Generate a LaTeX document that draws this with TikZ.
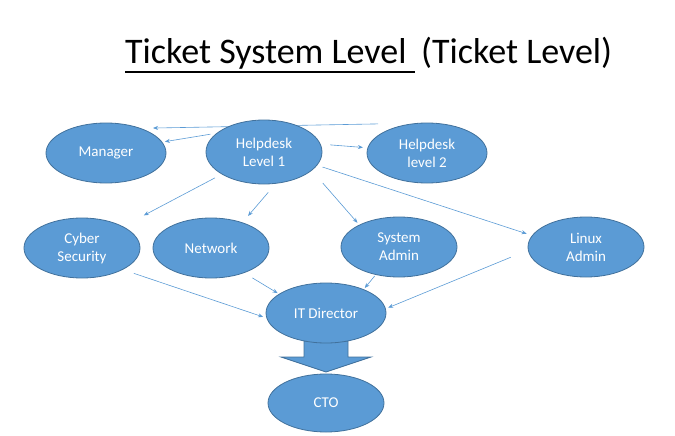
\documentclass[tikz,border=0pt]{standalone}
\usepackage{fontspec}
\setmainfont{Carlito}
\usetikzlibrary{arrows.meta}
\usetikzlibrary{calc}
\usetikzlibrary{shapes.geometric}
\definecolor{nodeBlue}{RGB}{91,155,213}
\definecolor{nodeEdge}{RGB}{65,113,156}
\definecolor{linkBlue}{RGB}{91,155,213}
\pgfdeclarelayer{background}
\pgfsetlayers{background,main}

\begin{document}
\begin{tikzpicture}[x=1pt,y=-1pt,
  level/.style={ellipse, fill=nodeBlue, draw=nodeEdge, line width=0.8pt, text=white,
    minimum width=116pt, minimum height=60pt, inner sep=0pt, outer sep=0pt,
    align=center, font=\fontsize{15}{18}\selectfont},
  link/.style={draw=linkBlue, line width=0.6pt, -{Stealth[length=5pt,width=4pt]}},
  heading/.style={anchor=base west, inner sep=0pt, font=\fontsize{36}{43}\selectfont},
]
\useasboundingbox (0,0) rectangle (675,436);

% title
\node [heading] (title) at (125,64) {Ticket System Level};
\node [heading] (subtitle) at (421,64) {(Ticket Level)};
\draw [line width=1.6pt] ($(title.base west)+(0,8)$) -- ($(subtitle.base west)+(-6,8)$);

% levels
\node [level, minimum width=120pt] (manager) at (106,153) {Manager};
\node [level, minimum height=64pt] (helpdeskA) at (264,152) {Helpdesk\\Level 1};
\node [level, minimum width=120pt] (helpdeskB) at (427,153) {Helpdesk\\level 2};
\node [level] (cyber) at (82,248) {Cyber\\Security};
\node [level] (network) at (211,248) {Network};
\node [level] (sysadmin) at (399,247) {System\\Admin};
\node [level] (linux) at (586,247) {Linux\\Admin};
\node [level, minimum width=120pt] (director) at (326,313) {IT Director};
\node [level, minimum height=58pt] (cto) at (326,403) {CTO};

\begin{pgfonlayer}{background}
\draw [link, shorten <=49pt, shorten >=13pt] (helpdeskB.north) -- (manager.36);
\draw [link, shorten <=7pt, shorten >=3pt] (helpdeskA.158) -- (manager.11);
\draw [link, shorten <=10pt, shorten >=5pt] (helpdeskA.8) -- (helpdeskB.175);
\draw [link, shorten <=8pt, shorten >=24pt] (helpdeskA) -- (cyber);
\draw [link, shorten <=12pt, shorten >=9pt] (helpdeskA.-69) -- (network.39);
\draw [link, shorten <=17pt, shorten >=3pt] (helpdeskA.-21) -- (sysadmin.151);
\draw [link, shorten <=6pt, shorten >=6pt] (helpdeskA.-14) -- (linux.168);
\draw [link, shorten <=12pt, shorten >=4pt] (cyber.-28) -- (director.185);
\draw [link, shorten <=10pt, shorten >=2pt] (network.-37) -- (director.158);
\draw [link, shorten <=2pt, shorten >=2pt] (sysadmin.230) -- (director.32);
\draw [link, shorten <=19pt, shorten >=3pt] (linux.183) -- (director.4);
% block arrow down to the CTO
\filldraw [fill=nodeBlue, draw=nodeEdge, line width=0.8pt]
  ($(director.south)+(-22,-2)$) -- ++(0,16) -- ++(-23,0) -- ($(cto.north)+(0,-2)$)
  -- ($(director.south)+(45,14)$) -- ++(-23,0) -- ++(0,-16) -- cycle;
\end{pgfonlayer}
\end{tikzpicture}
\end{document}
